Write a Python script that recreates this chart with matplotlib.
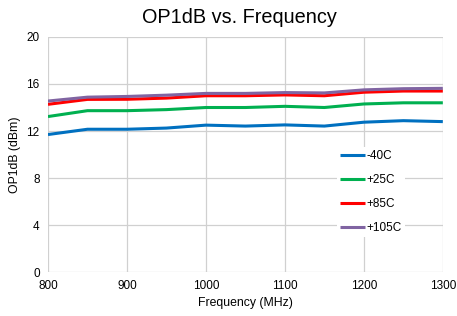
import matplotlib
matplotlib.use("Agg")
import matplotlib.pyplot as plt

# ---------------------------------------------------------------------------
# Data
# ---------------------------------------------------------------------------
freq_mhz = [800, 850, 900, 950, 1000, 1050, 1100, 1150, 1200, 1250, 1300]
op1db_m40 = [11.7, 12.15, 12.15, 12.25, 12.5, 12.42, 12.52, 12.42, 12.75, 12.88, 12.8]
op1db_p25 = [13.23, 13.73, 13.73, 13.82, 14.0, 14.0, 14.1, 14.0, 14.3, 14.4, 14.4]
op1db_p85 = [14.27, 14.69, 14.7, 14.8, 15.0, 15.0, 15.07, 15.0, 15.3, 15.4, 15.4]
op1db_p105 = [14.55, 14.88, 14.94, 15.05, 15.2, 15.2, 15.27, 15.24, 15.5, 15.6, 15.63]

series_labels = ["-40C", "+25C", "+85C", "+105C"]
x_ticks = [800, 900, 1000, 1100, 1200, 1300]
y_ticks = [0, 4, 8, 12, 16, 20]

_COLORS = ["#0070C0", "#00B050", "#FF0000", "#8064A2"]

plt.rcParams["font.family"] = ["Liberation Sans", "DejaVu Sans"]

fig = plt.figure(figsize=(4.57, 3.16), dpi=100)
ax = fig.add_axes([0.105, 0.139, 0.864, 0.744])

for vals, label, color in zip(
    [op1db_m40, op1db_p25, op1db_p85, op1db_p105], series_labels, _COLORS
):
    ax.plot(freq_mhz, vals, color=color, linewidth=2.2, label=label,
            solid_capstyle="butt")

ax.set_xlim(800, 1300)
ax.set_ylim(0, 20)
ax.set_xticks(x_ticks)
ax.set_yticks(y_ticks)
ax.grid(True, color="#D0D0D0", linewidth=0.9)
ax.set_axisbelow(True)
for spine in ax.spines.values():
    spine.set_visible(False)
ax.tick_params(length=0, labelsize=8.5, colors="#000000", pad=6)

ax.set_xlabel("Frequency (MHz)", fontsize=8.8, labelpad=3)
ax.set_ylabel("OP1dB (dBm)", fontsize=8.8)
ax.set_title("OP1dB vs. Frequency", fontsize=14.3, pad=10, x=0.485)

ax.legend(loc="center", bbox_to_anchor=(0.818, 0.34), fontsize=8.5,
          frameon=True, facecolor="white", edgecolor="none", framealpha=1,
          fancybox=False, handlelength=2.1, handletextpad=0.1,
          labelspacing=1.0, borderpad=0.3)

fig.savefig("out.png", dpi=100)
plt.close(fig)
